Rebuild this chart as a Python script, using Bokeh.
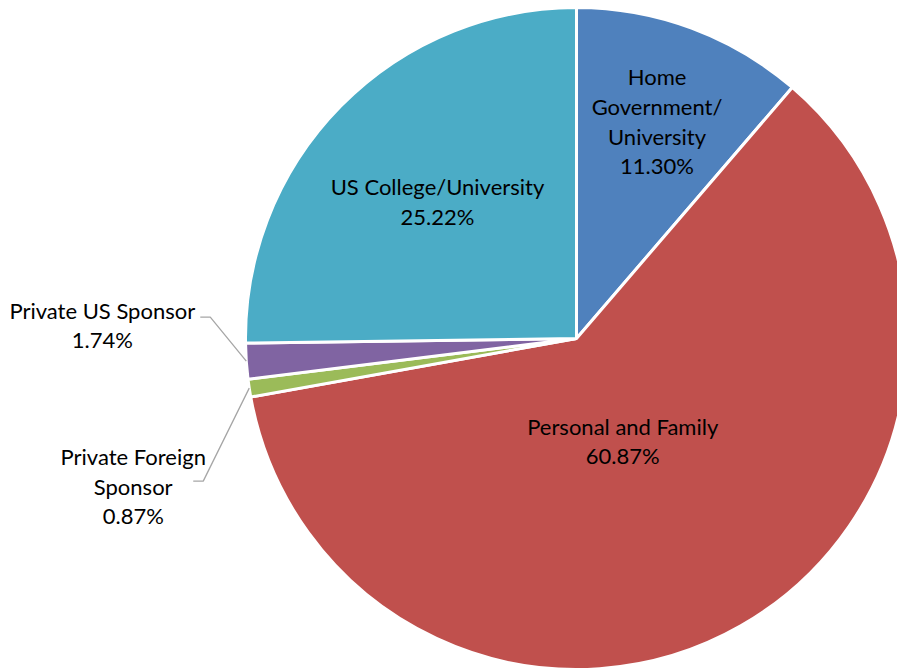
import numpy as np
from bokeh.plotting import figure
from bokeh.models import ColumnDataSource, Range1d
from bokeh.embed import file_html
from bokeh.resources import INLINE
from bokeh.core.properties import value

# ---- data ----
categories = ["Home Government/University", "Personal and Family",
              "Private Foreign Sponsor", "Private US Sponsor", "US College/University"]
shares = [11.30, 60.87, 0.87, 1.74, 25.22]
display_names = ["Home\nGovernment/\nUniversity", "Personal and Family",
                 "Private Foreign\nSponsor", "Private US Sponsor", "US College/University"]
colors = ["#4F81BD", "#C0504D", "#9BBB59", "#8064A2", "#4BACC6"]

# ---- layout ----
W, H = 897, 669
CX, CY, R = 576, 331, 331
FONT = "Lato"
FS = "22px"
LH = 1.10

p = figure(width=W, height=H, x_range=Range1d(0, W), y_range=Range1d(0, H),
           output_backend="svg", toolbar_location=None, min_border=0)
p.axis.visible = False
p.grid.visible = False
p.outline_line_color = None
p.background_fill_color = "white"

frac = np.array(shares) / 100.0
cum = np.concatenate([[0], np.cumsum(frac)])
start = np.pi / 2 - 2 * np.pi * cum[:-1]
end = np.pi / 2 - 2 * np.pi * cum[1:]
mid = (start + end) / 2

src = ColumnDataSource(dict(start=start, end=end, color=colors, name=categories))
p.wedge(x=CX, y=CY, radius=R, start_angle="start", end_angle="end", direction="clock",
        fill_color="color", line_color="white", line_width=3, source=src)

labels = [f"{n}\n{s:.2f}%" for n, s in zip(display_names, shares)]

# inside labels: (radius fraction, angle shift in degrees)
inside = {0: (0.70, 0.0), 1: (0.34, -5.5), 4: (0.59, 0.0)}
ix, iy, it = [], [], []
for i, (f, sh) in inside.items():
    a = mid[i] + np.deg2rad(sh)
    ix.append(CX + f * R * np.cos(a))
    iy.append(CY + f * R * np.sin(a))
    it.append(labels[i])
p.text(x=ix, y=iy, text=it, text_align="center", text_baseline="middle",
       text_font=value(FONT), text_font_size=FS, text_color="#000000",
       text_line_height=LH)

# outside labels with leader lines: elbow offset, tail length, text offset
outside = {2: ((-46, -93), -10, (-60, -5)), 3: ((-36, 44), -10, (-98, -8))}
ox, oy, ot = [], [], []
for i, (elb, tail, toff) in outside.items():
    ex = CX + R * np.cos(mid[i])
    ey = CY + R * np.sin(mid[i])
    bx, by = ex + elb[0], ey + elb[1]
    tx, ty = bx + tail, by
    p.line([ex, bx, tx], [ey, by, ty], line_color="#A6A6A6", line_width=1.3)
    ox.append(tx + toff[0])
    oy.append(ty + toff[1])
    ot.append(labels[i])
p.text(x=ox, y=oy, text=ot, text_align="center", text_baseline="middle",
       text_font=value(FONT), text_font_size=FS, text_color="#000000",
       text_line_height=LH)

open("out.html", "w").write(file_html(p, INLINE))
